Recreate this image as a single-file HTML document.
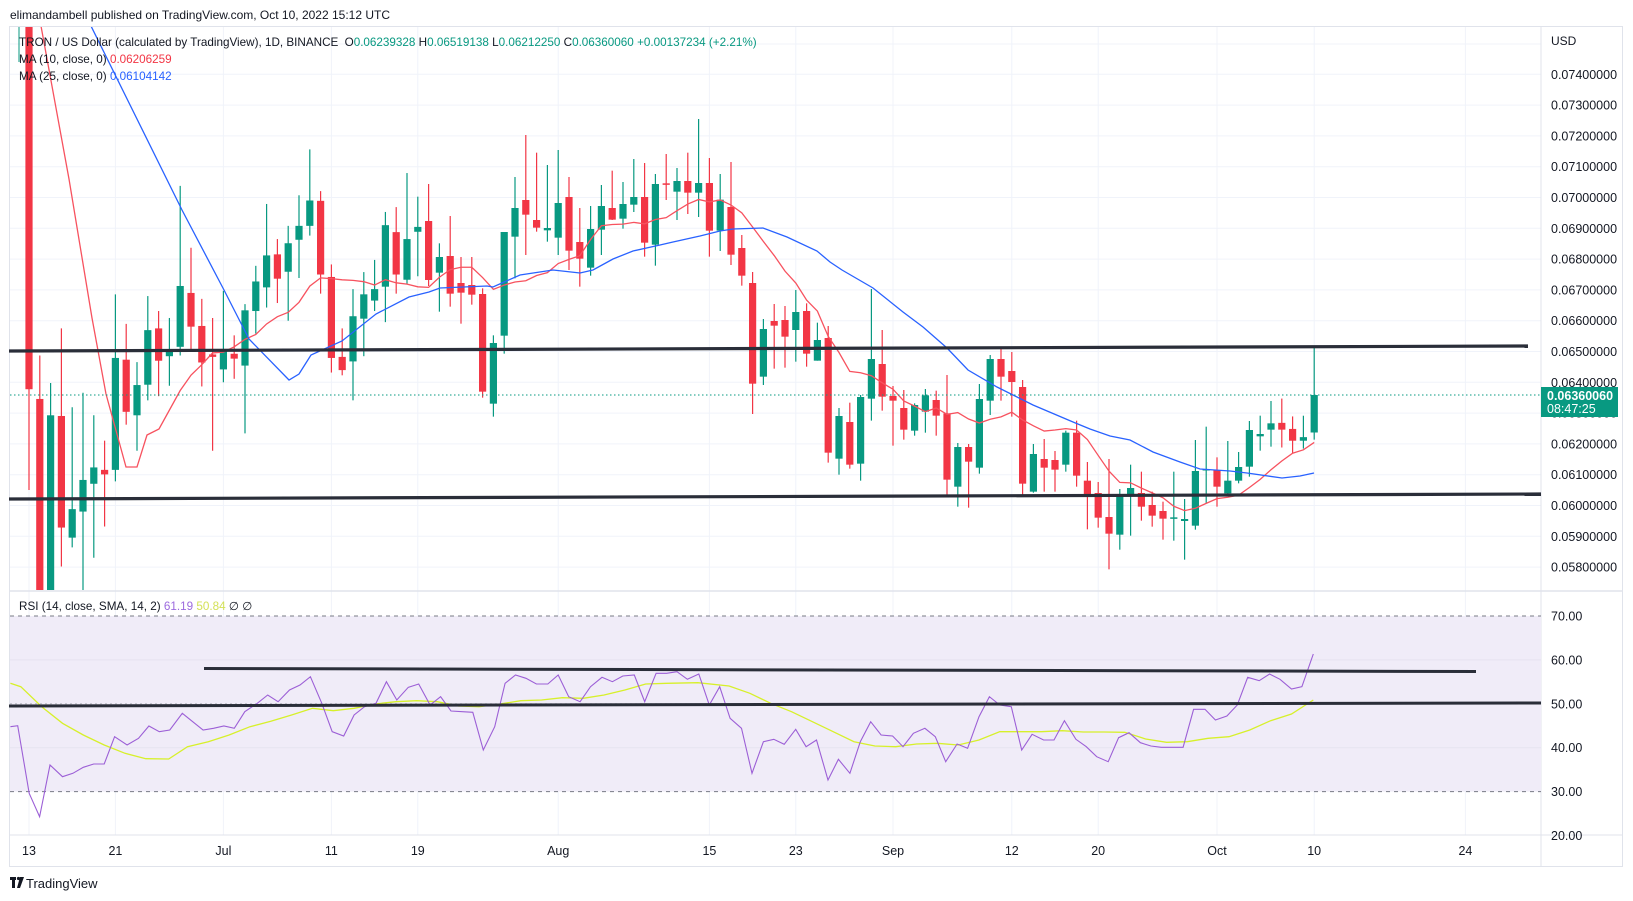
<!DOCTYPE html>
<html><head><meta charset="utf-8"><style>
html,body{margin:0;padding:0;background:#fff;width:1633px;height:901px;overflow:hidden;font-family:"Liberation Sans",sans-serif}
svg{position:absolute;left:0;top:0}
</style></head><body>
<svg id="s" width="1633" height="901" xmlns="http://www.w3.org/2000/svg" font-family="Liberation Sans, sans-serif"></svg>
<script>
const S=document.getElementById('s');let h='';
const G='#089981',R='#f23645';
const X=d=>29+10.8*d;
const yp=p=>74.3+(0.074-p)*30800;
h+='<rect x="9.5" y="26.5" width="1613" height="840" fill="#fff" stroke="#e0e3eb"/>';
h+='<clipPath id="cm"><rect x="10" y="27" width="1531" height="563"/></clipPath>';
h+='<clipPath id="cr"><rect x="10" y="592" width="1531" height="243"/></clipPath>';
for(let i=0;i<=16;i++){const p=0.074-i*0.001;const y=yp(p);h+=`<line x1="10" x2="1541" y1="${y}" y2="${y}" stroke="#f0f3fa"/>`;
h+=`<text x="1551" y="${y+4.5}" font-size="12.5" fill="#131722">${p.toFixed(8)}</text>`;}
h+=`<line x1="10" x2="1541" y1="44" y2="44" stroke="#f0f3fa"/>`;
const labs=[[0,'13'],[8,'21'],[18,'Jul'],[28,'11'],[36,'19'],[49,'Aug'],[63,'15'],[71,'23'],[80,'Sep'],[91,'12'],[99,'20'],[110,'Oct'],[119,'10'],[133,'24']];
for(const [d,t] of labs){const x=X(d);h+=`<line x1="${x}" x2="${x}" y1="27" y2="835" stroke="#f0f3fa"/>`;h+=`<text x="${x}" y="855" font-size="12.5" fill="#131722" text-anchor="middle">${t}</text>`;}
h+='<line x1="1541" x2="1541" y1="27" y2="866" stroke="#e0e3eb"/>';
h+='<line x1="10" x2="1623" y1="591" y2="591" stroke="#e0e3eb" stroke-width="1.5"/>';
h+='<line x1="10" x2="1623" y1="835" y2="835" stroke="#e0e3eb"/>';
const s1=[[-200,1045,-200,1335],[1073,1800,948,1800],[1800,1120,1027,1800],[1122,1443,870,1555],[1472,1390,1097,1500],[1397,1306,1055,1800],[1317,1270,1120,1530],[1277,1290,1193,1440],[1277,955,772,1310],[960,1110,857,1147],[1120,1033,967,1222],[1032,875,777,1077],[870,963,820,1065],[950,937,840,1035],[923,748,460,948],[768,865,638,930],[863,968,785,1037],[945,952,840,1222],[988,932,762,1025],[943,957,890,1015],[977,818,800,1172],[820,735,690,885],[752,660,512,810],[657,727,613,797],[707,625,575,848],[615,575,487,725],[575,502,355,603],[503,715,475,770],[722,955,686,997],[952,990,870,1005],[965,835,757,1077],[842,772,708,950],[790,757,673,820],[750,573,535,852],[593,715,521,770],[730,613,423,742],[592,578,491,720]];
const s2=[[363,540,252,558],[518,471,430,635],[468,581,348,620],[549,578,471,671],[555,584,471,614],[582,875,565,893],[911,729,706,950],[707,396,396,761],[410,324,231,535],[300,344,105,465],[360,383,158,395],[391,384,195,425],[413,309,150,465],[291,452,231,510],[426,476,324,560],[503,387,318,527],[389,318,255,465],[324,359,212,360],[356,312,246,386],[314,291,177,336],[291,428,189,470],[434,252,222,497],[250,254,162,300],[275,243,204,360],[243,278,158,342],[278,249,57,351],[249,392,174,470],[392,299,222,453],[321,464,186,495],[444,527,405,557],[549,851,516,942],[830,687,657,855],[663,677,612,806]];
const s3=[[150,200,108,293],[180,126,60,275],[123,251,100,290],[272,210,158,272],[204,548,168,578],[566,438,414,614],[456,584,398,596],[581,381,375,632],[386,267,57,452],[282,380,180,422],[378,392,348,527],[414,479,360,509],[482,405,400,497],[425,376,357,488],[390,437,362,497],[430,629,315,680],[650,531,519,710],[531,575,522,713],[593,387,342,611],[392,267,255,435],[267,320,231,392],[303,336,246,440],[351,641,330,680],[665,552,522,668],[567,593,507,665],[570,599,543,665],[584,488,482,605],[488,617,452,650],[632,674,576,778],[669,743,636,773],[741,791,567,898],[794,674,657,839],[678,654,584,797],[669,710,605,752],[705,737,665,770],[723,746,695,809],[746,742,605,812],[753,747,687,869],[767,603,510,779],[600,597,470,700],[600,650,562,710],[670,632,513,678],[632,591,546,640],[590,480,453,620],[499,492,437,542],[479,460,393,530]];
const s4=[[1128,1147,1060,1197],[1145,1178,1110,1212],[1178,1168,1108,1200],[1155,1050,912,1175]];
const C=[];
s1.forEach(c=>C.push(c.map(v=>26+v/2.877)));
s2.forEach(c=>C.push(c.map(v=>100+v/3)));
s3.forEach(c=>C.push(c.map(v=>270+v/3)));
s4.forEach(c=>C.push(c.map(v=>20+v/2.8)));
let cs='<g clip-path="url(#cm)">';
cs+=`<line x1="19" x2="19" y1="26" y2="62" stroke="${G}"/>`;
C.forEach((c,d)=>{let [o,cl,hi,lo]=c;let col=cl<o?G:R;if(d==116||d==117)col=R;
 const x=X(d);const t=Math.min(o,cl),b=Math.max(o,cl);
 cs+=`<line x1="${x}" x2="${x}" y1="${hi}" y2="${lo}" stroke="${col}" stroke-width="1.2"/>`;
 cs+=`<rect x="${x-3.6}" y="${t}" width="7.2" height="${Math.max(b-t,1.5)}" fill="${col}"/>`;});
let ma=[[41,26],[69,179],[92,318],[106,394],[126,467],[137,467],[147,435],[159,429]];
for(let d=14;d<C.length;d++){let s=0;for(let k=d-9;k<=d;k++)s+=C[k][1];ma.push([X(d),s/10]);}
cs+=`<polyline points="${ma.map(p=>p.join(',')).join(' ')}" fill="none" stroke="#f7525f" stroke-width="1.3"/>`;
const b=[[91,26],[182,210],[224,290],[249,339],[289,380],[299,374],[311,355],[342,341],[376,314],[409,297],[429,292],[440,288],[487,286],[493,287],[520,275],[553,270],[580,273],[593,270],[613,259],[633,251],[660,245],[673,242],[700,236],[720,231],[733,229],[763,228],[787,237],[817,251],[830,262],[842,270],[873,288],[903,312],[923,327],[947,348],[968,370],[997,387],[1033,405],[1073,422],[1090,429],[1110,436],[1130,440],[1153,452],[1180,462],[1200,469],[1230,471],[1247,473],[1282,478],[1300,476],[1314,473]];
cs+=`<polyline points="${b.map(p=>p.join(',')).join(' ')}" fill="none" stroke="#2962ff" stroke-width="1.3"/>`;
cs+='</g>';
h+=cs;
h+='<line x1="9" y1="351" x2="1528" y2="346" stroke="#2a2e39" stroke-width="3.2"/>';
h+='<line x1="9" y1="499" x2="1541" y2="494" stroke="#2a2e39" stroke-width="3.2"/>';
h+=`<line x1="10" x2="1541" y1="395" y2="395" stroke="${G}" stroke-dasharray="1.5,2.5"/>`;
h+=`<rect x="1541" y="387" width="77" height="30" fill="${G}"/>`;
h+='<text x="1547" y="400" font-size="12.5" font-weight="bold" fill="#fff">0.06360060</text>';
h+='<text x="1547" y="413" font-size="12.5" fill="#fff">08:47:25</text>';
h+='<text x="1551" y="45" font-size="12" fill="#131722">USD</text>';
h+='<text x="10" y="19" font-size="12" fill="#131722">elimandambell published on TradingView.com, Oct 10, 2022 15:12 UTC</text>';
h+=`<text x="19" y="46" font-size="11.7" fill="#131722">TRON / US Dollar (calculated by TradingView), 1D, BINANCE <tspan dx="3">O</tspan><tspan fill="${G}">0.06239328</tspan> H<tspan fill="${G}">0.06519138</tspan> L<tspan fill="${G}">0.06212250</tspan> C<tspan fill="${G}">0.06360060</tspan> <tspan fill="${G}">+0.00137234 (+2.21%)</tspan></text>`;
h+='<text x="19" y="63" font-size="11.7" fill="#131722">MA (10, close, 0) <tspan fill="#f23645">0.06206259</tspan></text>';
h+='<text x="19" y="80" font-size="11.7" fill="#131722">MA (25, close, 0) <tspan fill="#2962ff">0.06104142</tspan></text>';
const yr=v=>616+(70-v)*4.39;
h+=`<rect x="10" y="${yr(70)}" width="1531" height="${yr(30)-yr(70)}" fill="#f0ecf8"/>`;
h+=`<line x1="10" x2="1541" y1="${yr(70)}" y2="${yr(70)}" stroke="#787b86" stroke-dasharray="4,4"/>`;
h+=`<line x1="10" x2="1541" y1="${yr(30)}" y2="${yr(30)}" stroke="#787b86" stroke-dasharray="4,4"/>`;
h+=`<line x1="10" x2="1541" y1="${yr(50)}" y2="${yr(50)}" stroke="#9598a1" stroke-dasharray="2,3" opacity="0.6"/>`;
[70,60,50,40,30,20].forEach(v=>{const y=yr(v);if(v==60||v==40)h+=`<line x1="10" x2="1541" y1="${y}" y2="${y}" stroke="#e6e3f0"/>`;h+=`<text x="1551" y="${y+4.5}" font-size="12.5" fill="#131722">${v.toFixed(2)}</text>`;});
h+='<text x="19" y="610" font-size="11.7" fill="#131722">RSI (14, close, SMA, 14, 2) <tspan fill="#9c6ade">61.19</tspan> <tspan fill="#d4e157">50.84</tspan> <tspan>∅</tspan> <tspan>∅</tspan></text>';
const rp=[[10,500],[17,497],[28,700],[38,770],[48,615],[60,650],[70,640],[80,622],[90,612],[100,612],[110,530],[122,555],[133,535],[143,498],[153,515],[163,510],[175,460],[185,485],[195,510],[205,505],[215,498],[225,505],[235,455],[247,430],[257,405],[267,425],[278,390],[288,375],[298,350],[309,430],[319,515],[330,528],[340,465],[350,440],[361,430],[371,365],[381,420],[392,382],[402,372],[413,435],[423,410],[433,453],[444,455],[454,457],[464,570],[475,500],[485,370],[495,345],[505,355],[515,372],[526,372],[536,345],[546,410],[557,425],[567,380],[578,352],[588,365],[598,348],[609,345],[619,425],[630,340],[640,340],[650,335],[660,358],[671,342],[681,435],[691,380],[701,475],[712,505],[722,640],[733,545],[743,538],[753,553],[764,508],[774,560],[784,540],[795,660],[805,598],[816,640],[826,545],[836,485],[846,525],[857,528],[867,560],[877,520],[888,505],[898,530],[908,605],[919,552],[929,565],[940,470],[950,410],[960,435],[971,440],[981,570],[991,523],[1002,540],[1012,540],[1022,482],[1033,538],[1043,560],[1053,590],[1064,605],[1074,533],[1084,518],[1095,548],[1105,558],[1115,562],[1126,562],[1136,562],[1146,448],[1157,448],[1167,480],[1178,468],[1188,435],[1198,352],[1209,362],[1219,342],[1229,358],[1240,387],[1250,380],[1261,282]];
const yl=[[10,370],[20,380],[40,440],[60,490],[80,525],[100,555],[120,580],[140,596],[162,597],[180,560],[200,545],[220,525],[240,500],[260,484],[280,465],[300,445],[320,452],[340,445],[360,432],[380,425],[400,422],[420,425],[440,438],[460,440],[480,432],[500,422],[520,420],[540,413],[560,415],[580,405],[600,390],[620,372],[640,370],[670,368],[700,378],[720,400],[740,430],[760,455],[780,485],[800,515],[820,545],[840,558],[860,560],[880,552],[900,550],[920,555],[940,540],[960,515],[980,515],[1000,515],[1020,512],[1040,516],[1060,516],[1080,517],[1100,537],[1120,547],[1140,545],[1160,535],[1180,530],[1200,510],[1220,482],[1240,462],[1261,420]];
const cv=p=>(p[0]*1.0415).toFixed(1)+','+(560+p[1]/3).toFixed(1);
h+=`<g clip-path="url(#cr)"><polyline points="${yl.map(cv).join(' ')}" fill="none" stroke="#d7f02a" stroke-width="1.3"/>`;
h+=`<polyline points="${rp.map(cv).join(' ')}" fill="none" stroke="#9c5fd6" stroke-width="1.1"/></g>`;
h+='<line x1="204" y1="668.5" x2="1476" y2="671.5" stroke="#2a2e39" stroke-width="3"/>';
h+='<line x1="9" y1="706" x2="1541" y2="703" stroke="#2a2e39" stroke-width="3"/>';
h+='<rect x="10" y="877" width="6" height="3" fill="#131722"/><rect x="12" y="877" width="3" height="11" fill="#131722"/><circle cx="18.5" cy="878.5" r="1.6" fill="#131722"/><path d="M20 877 L24 877 L20 888 L17 888Z" fill="#131722"/>';
h+='<text x="26" y="888" font-size="13" fill="#131722">TradingView</text>';
S.innerHTML=h;
</script>
</body></html>
